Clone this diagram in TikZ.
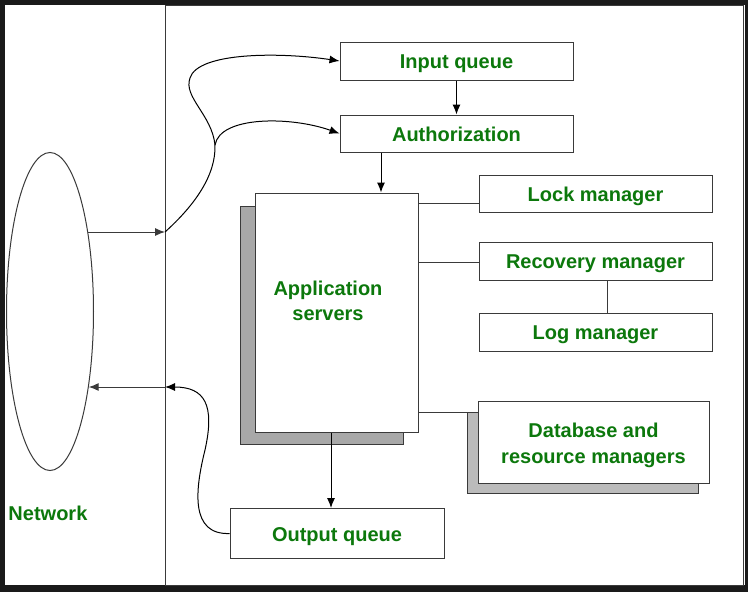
\documentclass[tikz,border=0pt]{standalone}
\usepackage{fontspec}
\setmainfont{Liberation Sans}
\usetikzlibrary{arrows.meta,shapes.geometric}
\tikzset{>={Latex[width=8pt,length=10pt]}}
\definecolor{darkgreen}{RGB}{12,120,12}
\definecolor{frame}{HTML}{1A1A1A}
\definecolor{edge}{HTML}{3A3A3A}
\definecolor{shadowgray}{HTML}{A8A8A8}
\definecolor{lightshadow}{HTML}{BBBBBB}
\newcommand{\LBL}{\fontsize{20}{25.5}\selectfont\bfseries}
\tikzset{
  box/.style={draw=edge, fill=white, line width=1pt, align=center,
    inner sep=0pt, font=\LBL, text=darkgreen, text height=18pt, text depth=3pt},
  shadowbox/.style={draw=edge, line width=1pt, inner sep=0pt},
  label text/.style={font=\LBL, text=darkgreen, align=center, inner sep=0pt},
}

\begin{document}
\begin{tikzpicture}[x=1pt, y=-1pt, line width=1pt]

\newcommand\W{233pt}

  \fill[frame] (0,0) rectangle (748,592);
  \fill[white] (5,5) rectangle (745,585);
  \draw[edge] (165,5) rectangle (743,585);

  %% network side
  \node[ellipse, draw=edge, minimum width=87pt, minimum height=318pt,
    inner sep=0pt] (net) at (50,311.5) {};
  \node[label text, anchor=west] (netlbl) at (8,513) {Network};
  \coordinate (jin) at (165,232);
  \coordinate (jout) at (165,387);
  \coordinate (split) at (215,145);

  %% queues
  \node[box, minimum width=\W, minimum height=38pt] (inq) at (456.5,61) {Input queue};
  \node[box, minimum width=\W, minimum height=37pt] (auth) at (456.5,133.5) {Authorization};
  \node[box, minimum width=214pt, minimum height=50pt] (outq) at (337,533.5) {Output queue};

  %% managers
  \node[box, minimum width=\W, minimum height=37pt] (lock) at (595.5,193.5) {Lock manager};
  \node[box, minimum width=\W, minimum height=38pt] (recov) at (595.5,261) {Recovery manager};
  \node[box, minimum width=\W, minimum height=38pt] (logm) at (595.5,332) {Log manager};

  \draw[edge] (418,203) -- (lock.west |- 0,203);
  \draw[edge] (418,262) -- (recov.west |- 0,262);
  \draw[edge] (418,412) -- (478,412);
  \draw[edge] (recov.south -| 607,0) -- (logm.north -| 607,0);

  \node[shadowbox, fill=lightshadow, minimum width=231pt, minimum height=81pt]
    (dbsh) at (582.5,452.5) {};
  \node[box, minimum width=231pt, minimum height=82pt] (db) at (593.5,442) {};
  \node[label text] (dblbl) at (593.5,445.5) {Database and\\resource managers};

  %% application servers
  \node[shadowbox, fill=shadowgray, minimum width=163pt, minimum height=238pt]
    (appsh) at (322,325.5) {};
  \node[box, minimum width=163pt, minimum height=239pt] (app) at (336.5,312.5) {};
  \node[label text] (applbl) at (328,301) {Application\\servers};

  %% connectors
  \draw[->, edge] (net.65 |- jin) -- (jin);
  \draw[->, edge] (jout) -- (net.-63 |- jout);
  \draw[->] (inq) -- (auth);
  \draw[->] (auth.south -| 381,0) -- (app.north -| 381,0);
  \draw[->] (app.south -| 331,0) -- (outq.north -| 331,0);

  \draw (jin) .. controls (195,205) and (216,175) .. (split);
  \draw[->] (split) .. controls (212,115) and (183,97) .. (190,78)
    .. controls (198,52) and (280,52) .. (inq.west);
  \draw[->] (split) .. controls (220,116) and (290,116) .. (auth.west);
  \draw[->] (outq.west) .. controls (190,535) and (195,490) .. (205,450)
    .. controls (215,405) and (205,387) .. (jout);

\end{tikzpicture}
\end{document}
